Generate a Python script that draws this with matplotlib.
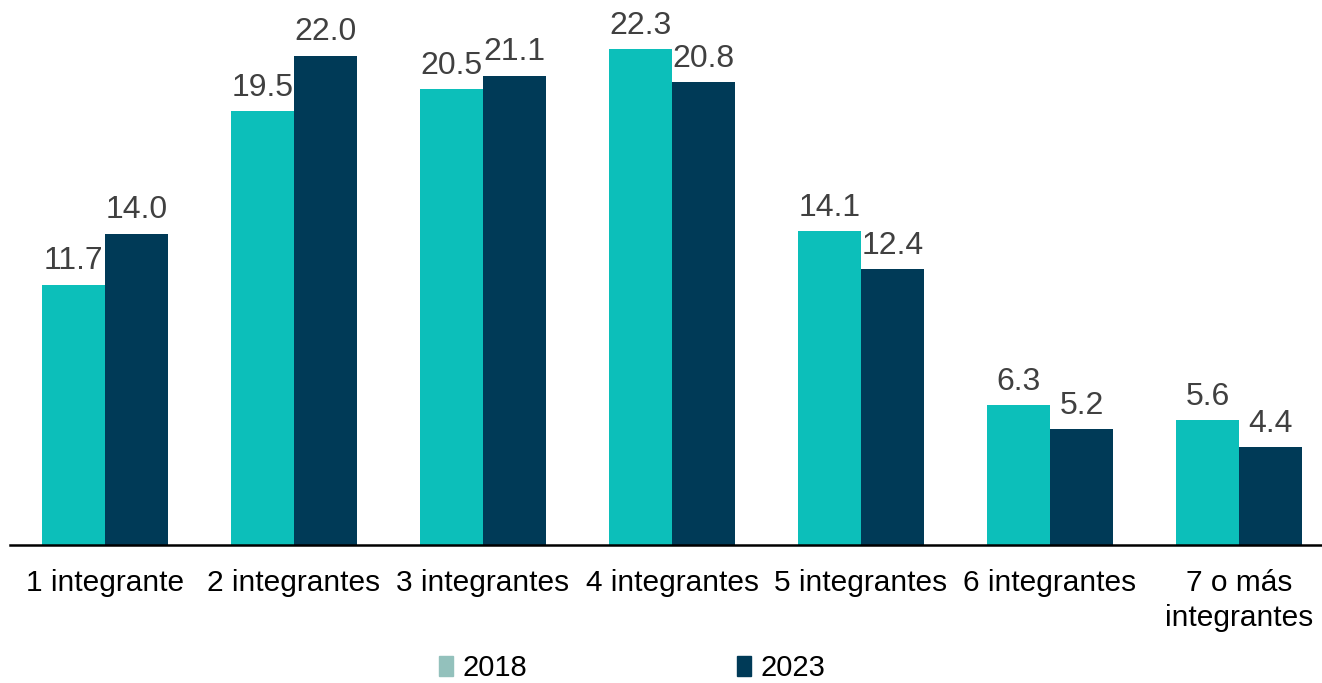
import numpy as np
import matplotlib.pyplot as plt
from matplotlib.patches import Patch

plt.rcParams['font.family'] = ['Liberation Sans', 'DejaVu Sans']

# data
categorias = ['1 integrante', '2 integrantes', '3 integrantes', '4 integrantes',
              '5 integrantes', '6 integrantes', '7 o más\nintegrantes']
v2018 = [11.7, 19.5, 20.5, 22.3, 14.1, 6.3, 5.6]
v2023 = [14.0, 22.0, 21.1, 20.8, 12.4, 5.2, 4.4]

c2018 = '#0cbfba'
c2023 = '#003a57'

fig = plt.figure(figsize=(13.22, 6.83), dpi=100)
ax = fig.add_axes([10 / 1322, 1 - 545 / 683, 1 - 10 / 1322, 545 / 683])

x = np.arange(len(categorias))
w = 63 / 189
b1 = ax.bar(x - w / 2, v2018, w, color=c2018)
b2 = ax.bar(x + w / 2, v2023, w, color=c2023)

for bars, vals in ((b1, v2018), (b2, v2023)):
    for r, v in zip(bars, vals):
        ax.annotate(f'{v:.1f}', (r.get_x() + r.get_width() / 2, v),
                    xytext=(0, 6), textcoords='offset points',
                    ha='center', va='bottom', fontsize=23, color='#404040')

ax.set_xlim((10 - 105) / 189, (1322 - 105) / 189)
ax.set_ylim(0, 545 / 22.24)
ax.set_xticks(x)
ax.set_xticklabels(categorias, fontsize=21.5, color='black', linespacing=1.35)
ax.tick_params(axis='x', length=0, pad=17)
ax.set_yticks([])
for s in ('top', 'right', 'left'):
    ax.spines[s].set_visible(False)
ax.spines['bottom'].set_linewidth(1.8)
ax.spines['bottom'].set_color('black')

handles = [Patch(color='#93c1bc', label='2018'), Patch(color=c2023, label='2023')]
fig.legend(handles=handles, loc='center', bbox_to_anchor=(0.478, 1 - 668 / 683),
           ncol=2, frameon=False, fontsize=21, handlelength=0.5, handleheight=0.7,
           handletextpad=0.3, columnspacing=7.2)

fig.savefig('out.png', dpi=100)
